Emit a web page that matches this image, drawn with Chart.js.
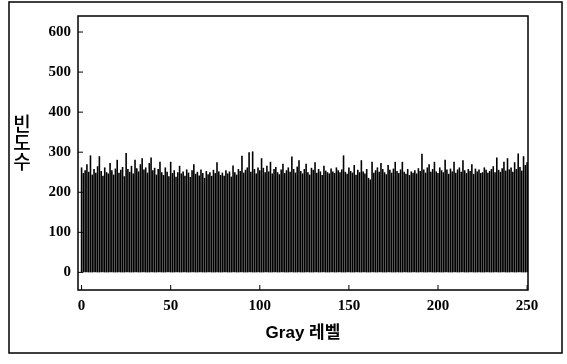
<!DOCTYPE html>
<html>
<head>
<meta charset="utf-8">
<script src="https://cdn.jsdelivr.net/npm/chart.js@4"></script>
<style>
  html, body { margin: 0; padding: 0; background: #fff; }
  #wrap { width: 567px; height: 364px; }
</style>
</head>
<body>
<div id="wrap"><canvas id="hist"></canvas></div>
<script>
const xTitle = "Gray 레벨";
const yTitle = "빈도수";
const xTicks = [0, 50, 100, 150, 200, 250];
const yTicks = [0, 100, 200, 300, 400, 500, 600];

// counts per gray level 0..250
const counts = [
    262, 248, 255, 270, 251, 292, 244, 258, 249, 265,
    290, 253, 241, 262, 250, 247, 273, 255, 244, 259,
    281, 249, 256, 263, 240, 298, 258, 251, 266, 247,
    281, 260, 252, 270, 285, 257, 262, 249, 273, 287,
    255, 261, 244, 258, 276, 250, 243, 262, 251, 240,
    276, 248, 255, 239, 250, 266, 247, 252, 241, 257,
    249, 238, 255, 270, 246, 251, 242, 257, 248, 236,
    253, 245, 250, 241, 256, 248, 275, 252, 243, 249,
    241, 255, 247, 252, 239, 267, 250, 244, 258, 253,
    291, 249, 256, 262, 300, 251, 302, 258, 247, 262,
    255, 285, 261, 250, 266, 252, 276, 247, 258, 263,
    250, 245, 257, 271, 248, 255, 262, 251, 289, 258,
    249, 264, 280, 253, 247, 258, 271, 250, 244, 261,
    256, 275, 249, 258, 252, 243, 266, 254, 250, 247,
    259, 252, 248, 262, 255, 250, 257, 292, 251, 246,
    262, 253, 249, 268, 244, 256, 250, 280, 252, 247,
    258, 236, 232, 276, 249, 255, 262, 251, 273, 258,
    250, 245, 268, 256, 249, 259, 276, 253, 248, 257,
    276, 251, 246, 258, 243, 252, 249, 255, 247, 260,
    253, 296, 257, 249, 262, 270, 251, 258, 276, 252,
    248, 262, 255, 250, 281, 257, 246, 259, 252, 276,
    249, 257, 262, 251, 280, 255, 248, 258, 253, 270,
    246, 259, 252, 257, 248, 250, 262, 256, 249, 253,
    258, 265, 250, 287, 256, 251, 260, 276, 254, 285,
    257, 262, 251, 275, 258, 297, 263, 254, 290, 268,
    275
];

const points = counts.map((c, i) => ({ x: i, y: c }));

// frame around plot + page border + inward ticks + stacked y title
const framePlugin = {
    id: "frame",
    afterDraw(chart) {
        const ctx = chart.ctx;
        const a = chart.chartArea;
        const xs = chart.scales.x;
        const ys = chart.scales.y;
        ctx.save();
        ctx.strokeStyle = "#000";
        ctx.lineWidth = 1.5;
        ctx.strokeRect(a.left, a.top, a.right - a.left, a.bottom - a.top);
        ctx.strokeRect(9, 2, 553, 351);
        ctx.lineWidth = 1;
        xTicks.forEach((t) => {
            const px = xs.getPixelForValue(t);
            ctx.beginPath();
            ctx.moveTo(px, a.bottom);
            ctx.lineTo(px, a.bottom - 5);
            ctx.stroke();
        });
        yTicks.forEach((t) => {
            const py = ys.getPixelForValue(t);
            ctx.beginPath();
            ctx.moveTo(a.left, py);
            ctx.lineTo(a.left + 5, py);
            ctx.stroke();
        });
        ctx.fillStyle = "#000";
        ctx.font = "500 19px 'Noto Sans CJK KR'";
        ctx.textAlign = "center";
        ctx.textBaseline = "middle";
        [...yTitle].forEach((ch, i) => {
            ctx.fillText(ch, 22, 124 + i * 19);
        });
        ctx.restore();
    },
};

new Chart(document.getElementById("hist"), {
    type: "bar",
    data: {
        datasets: [
            {
                data: points,
                backgroundColor: "#000",
                borderWidth: 0,
                barPercentage: 0.9,
                categoryPercentage: 1,
            },
        ],
    },
    options: {
        responsive: true,
        maintainAspectRatio: false,
        animation: false,
        layout: {
            padding: { left: 9, top: 11, right: 39, bottom: 0 },
        },
        plugins: {
            legend: { display: false },
            tooltip: { enabled: false },
        },
        scales: {
            x: {
                type: "linear",
                offset: false,
                min: -2,
                max: 250.5,
                grid: { display: false, drawTicks: false },
                border: { display: false },
                afterBuildTicks: (s) => {
                    s.ticks = xTicks.map((v) => ({ value: v }));
                },
                afterFit: (s) => {
                    s.height = 74;
                },
                ticks: {
                    color: "#000",
                    padding: 7,
                    font: { family: "'Liberation Serif'", size: 15, weight: "bold" },
                },
                title: {
                    display: true,
                    text: xTitle,
                    color: "#000",
                    padding: { top: 0, bottom: 20 },
                    font: { family: "'Liberation Sans', 'Noto Sans CJK KR'", size: 17, weight: "bold" },
                },
            },
            y: {
                min: -44,
                max: 640,
                grid: { display: false, drawTicks: false },
                border: { display: false },
                afterBuildTicks: (s) => {
                    s.ticks = yTicks.map((v) => ({ value: v }));
                },
                afterFit: (s) => {
                    s.width = 69;
                },
                ticks: {
                    color: "#000",
                    padding: 7,
                    font: { family: "'Liberation Serif'", size: 15, weight: "bold" },
                },
            },
        },
    },
    plugins: [framePlugin],
});
</script>
</body>
</html>
